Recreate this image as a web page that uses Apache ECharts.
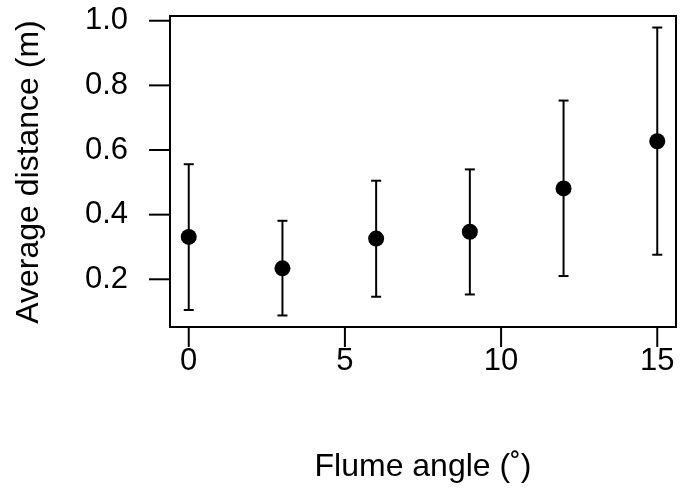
<!DOCTYPE html>
<html>
<head>
<meta charset="utf-8">
<script src="https://cdn.jsdelivr.net/npm/echarts@6/dist/echarts.min.js"></script>
<style>
  html, body { margin: 0; padding: 0; background: #fff; }
  #chart { width: 681px; height: 494px; }
</style>
</head>
<body>
<div id="chart"></div>
<script>
// Flume angle (degrees) and the mean travel distance with its interval
var angles = [0, 3, 6, 9, 12, 15];
var meanDist = [0.331, 0.234, 0.326, 0.347, 0.481, 0.627];
var lowerDist = [0.105, 0.088, 0.146, 0.153, 0.210, 0.276];
var upperDist = [0.556, 0.381, 0.505, 0.540, 0.753, 0.979];
var xTicks = [0, 5, 10, 15];
var yTicks = [0.2, 0.4, 0.6, 0.8, 1.0];

var FONT = '"Liberation Sans", Arial, Helvetica, sans-serif';
var TICK_SIZE = 31;
var TITLE_SIZE = 32;

// R-style axis limits: data range padded by 4% on each side
function padRange(lo, hi) {
  var d = (hi - lo) * 0.04;
  return [lo - d, hi + d];
}
var xr = padRange(Math.min.apply(null, angles), Math.max.apply(null, angles));
var yr = padRange(Math.min.apply(null, lowerDist), Math.max.apply(null, upperDist));

var pointData = angles.map(function (a, i) { return [a, meanDist[i]]; });
var barData = angles.map(function (a, i) { return [a, lowerDist[i], upperDist[i]]; });

var chart = echarts.init(document.getElementById('chart'), null, { renderer: 'canvas' });

var GRID = { left: 170, right: 5, top: 16, bottom: 167 };

chart.setOption({
  animation: false,
  backgroundColor: '#ffffff',
  grid: Object.assign({ show: true, borderColor: '#000', borderWidth: 2, backgroundColor: 'transparent' }, GRID),
  xAxis: {
    type: 'value',
    min: xr[0],
    max: xr[1],
    axisLine: { show: false },
    splitLine: { show: false },
    axisTick: { show: false },
    axisLabel: { show: false }
  },
  yAxis: {
    type: 'value',
    min: yr[0],
    max: yr[1],
    axisLine: { show: false },
    splitLine: { show: false },
    axisTick: { show: false },
    axisLabel: { show: false }
  },
  series: [
    {
      // error bars with end caps
      type: 'custom',
      data: barData,
      z: 2,
      renderItem: function (params, api) {
        var x = api.value(0);
        var lo = api.coord([x, api.value(1)]);
        var hi = api.coord([x, api.value(2)]);
        var cap = 5;
        var style = { stroke: '#000', lineWidth: 2 };
        return {
          type: 'group',
          children: [
            { type: 'line', shape: { x1: lo[0], y1: lo[1], x2: hi[0], y2: hi[1] }, style: style },
            { type: 'line', shape: { x1: lo[0] - cap, y1: lo[1], x2: lo[0] + cap, y2: lo[1] }, style: style },
            { type: 'line', shape: { x1: hi[0] - cap, y1: hi[1], x2: hi[0] + cap, y2: hi[1] }, style: style }
          ]
        };
      }
    },
    {
      type: 'scatter',
      data: pointData,
      symbol: 'circle',
      symbolSize: 16,
      z: 3,
      itemStyle: { color: '#000', borderWidth: 0, opacity: 1 }
    },
    {
      // bottom axis: ticks and labels drawn outside the frame
      type: 'custom',
      data: xTicks.map(function (t) { return [t]; }),
      silent: true,
      clip: false,
      renderItem: function (params, api) {
        var t = api.value(0);
        var p = api.coord([t, yr[0]]);
        return {
          type: 'group',
          children: [
            { type: 'line', shape: { x1: p[0], y1: p[1], x2: p[0], y2: p[1] + 20 }, style: { stroke: '#000', lineWidth: 2 } },
            { type: 'text', x: p[0], y: p[1] + 34, style: { text: String(t), font: TICK_SIZE + 'px ' + FONT, fill: '#000', align: 'center', verticalAlign: 'middle' } }
          ]
        };
      }
    },
    {
      // left axis: ticks and horizontal labels
      type: 'custom',
      data: yTicks.map(function (t) { return [t]; }),
      silent: true,
      clip: false,
      renderItem: function (params, api) {
        var t = api.value(0);
        var p = api.coord([xr[0], t]);
        return {
          type: 'group',
          children: [
            { type: 'line', shape: { x1: p[0] - 21, y1: p[1], x2: p[0], y2: p[1] }, style: { stroke: '#000', lineWidth: 2 } },
            { type: 'text', x: p[0] - 42, y: p[1], style: { text: t.toFixed(1), font: TICK_SIZE + 'px ' + FONT, fill: '#000', align: 'right', verticalAlign: 'middle' } }
          ]
        };
      }
    }
  ],
  graphic: [
    {
      type: 'text',
      x: 423, y: 467,
      style: { text: 'Flume angle (˚)', font: TITLE_SIZE + 'px ' + FONT, fill: '#000', align: 'center', verticalAlign: 'middle' }
    },
    {
      type: 'text',
      x: 29, y: 172,
      rotation: Math.PI / 2,
      style: { text: 'Average distance (m)', font: TITLE_SIZE + 'px ' + FONT, fill: '#000', align: 'center', verticalAlign: 'middle' }
    }
  ]
});
</script>
</body>
</html>
